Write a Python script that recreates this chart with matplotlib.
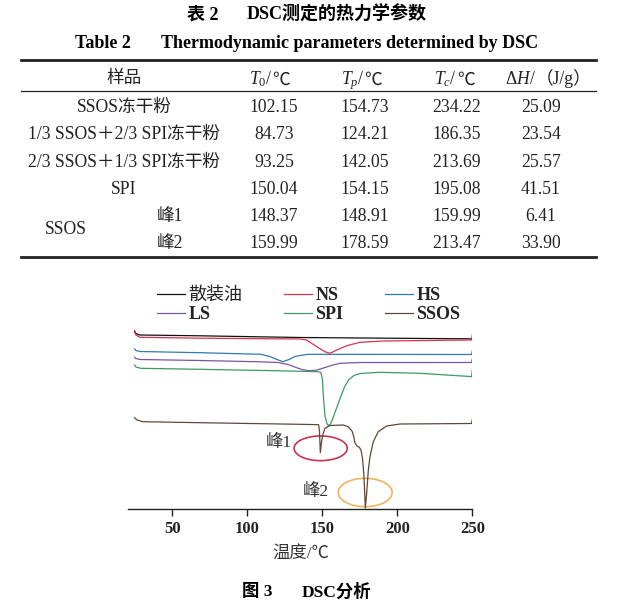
import matplotlib
matplotlib.use('Agg')
import matplotlib.pyplot as plt
from matplotlib.patches import Ellipse

plt.rcParams['font.family'] = ['Liberation Serif', 'Noto Sans CJK SC']
plt.rcParams['mathtext.fontset'] = 'custom'
plt.rcParams['mathtext.rm'] = 'Liberation Serif'
plt.rcParams['mathtext.it'] = 'Liberation Serif:italic'
plt.rcParams['mathtext.bf'] = 'Liberation Serif:bold'

# ---- Table 2 data ----
row_labels = ['SSOS冻干粉', '1/3 SSOS＋2/3 SPI冻干粉', '2/3 SSOS＋1/3 SPI冻干粉', 'SPI', '峰1', '峰2']
t_onset = [102.15, 84.73, 93.25, 150.04, 148.37, 159.99]
t_peak = [154.73, 124.21, 142.05, 154.15, 148.91, 178.59]
t_end = [234.22, 186.35, 213.69, 195.08, 159.99, 213.47]
delta_h = [25.09, 23.54, 25.57, 41.51, 6.41, 33.90]

# ---- DSC curves: temperature (C) and heat flow (a.u.) ----
oil_t = [24.9, 25.8, 28.3, 68.5, 135.1, 201.8, 248.5, 250.0]
oil_h = [17.80, 17.55, 17.40, 17.32, 17.15, 17.07, 17.02, 17.02]

ns_t = [24.9, 25.8, 28.5, 68.5, 135.1, 139.6, 146.3, 151.8, 155.1, 159.6, 166.3, 175.1, 190.5, 248.5, 249.5, 250.0]
ns_h = [17.70, 17.40, 17.17, 17.08, 17.00, 16.90, 16.23, 15.73, 15.57, 15.90, 16.33, 16.67, 16.80, 16.90, 16.90, 17.40]

hs_t = [24.9, 25.8, 28.5, 68.5, 109.1, 115.1, 119.8, 123.8, 127.8, 131.8, 135.1, 140.5, 248.5, 249.5, 250.0]
hs_h = [16.00, 15.85, 15.75, 15.63, 15.47, 15.25, 14.95, 14.73, 14.95, 15.25, 15.35, 15.47, 15.45, 15.45, 15.80]

ls_t = [24.9, 25.8, 28.5, 68.5, 108.5, 120.5, 127.1, 132.5, 137.1, 141.8, 146.5, 151.8, 157.1, 161.8, 175.1, 248.5, 249.5, 250.0]
ls_h = [15.17, 15.05, 14.95, 14.85, 14.72, 14.65, 14.45, 14.15, 13.92, 13.82, 13.90, 14.15, 14.40, 14.57, 14.65, 14.65, 14.65, 15.00]

spi_t = [24.9, 25.8, 29.1, 68.5, 121.8, 147.1, 149.1, 150.1, 150.8, 151.8, 153.1, 154.1, 155.5, 157.1, 159.8,
         162.5, 165.1, 167.8, 171.1, 175.1, 188.5, 215.1, 248.5, 249.5, 250.0]
spi_h = [14.40, 14.20, 14.07, 13.97, 13.82, 13.73, 13.65, 12.90, 11.10, 9.30, 8.55, 8.33, 8.50, 9.10, 10.20,
         11.30, 12.30, 12.95, 13.35, 13.55, 13.67, 13.57, 13.25, 13.22, 13.90]

ssos_t = [24.9, 26.5, 30.5, 68.5, 135.1, 147.5, 148.1, 148.7, 149.5, 150.3, 151.8, 155.1, 163.8, 167.1, 169.8,
          171.1, 171.8, 173.1, 174.7, 175.8, 176.8, 177.8, 178.7, 179.6, 180.7, 181.8, 184.0, 187.3, 192.9,
          201.8, 248.5, 249.5, 250.0]
ssos_h = [9.13, 8.90, 8.73, 8.63, 8.47, 8.43, 7.90, 5.63, 6.70, 7.40, 8.07, 8.35, 8.40, 8.25, 7.80,
          7.20, 6.60, 6.30, 6.17, 5.90, 5.10, 3.23, 0.10, 1.60, 3.90, 5.23, 6.73, 7.73, 8.30,
          8.50, 8.55, 8.55, 8.95]

curve_labels = ['散装油', 'NS', 'HS', 'LS', 'SPI', 'SSOS']
curve_t = [oil_t, ns_t, hs_t, ls_t, spi_t, ssos_t]
curve_h = [oil_h, ns_h, hs_h, ls_h, spi_h, ssos_h]
colors = ['#111111', '#d8344a', '#3478b4', '#7a55a3', '#3d9a62', '#5e4838']

xticks = [50, 100, 150, 200, 250]

fig = plt.figure(figsize=(6.29, 6.05), dpi=100)

# full-figure layer in pixel units for the table and captions
ax0 = fig.add_axes([0, 0, 1, 1])
ax0.set_xlim(0, 629)
ax0.set_ylim(605, 0)
ax0.axis('off')

ax0.text(186.7, 15, '表 2', fontsize=13, fontweight='bold', ha='left', va='center')
ax0.text(246.8, 15, 'DSC测定的热力学参数', fontsize=13, fontweight='bold', ha='left', va='center')
ax0.text(74.6, 43.3, 'Table 2', fontsize=13, fontweight='bold', ha='left', va='center')
ax0.text(161, 43.3, 'Thermodynamic parameters determined by DSC', fontsize=13, fontweight='bold',
         ha='left', va='center')

ax0.plot([20.7, 596], [60, 60], color='#222222', lw=2.0)
ax0.plot([20.7, 596], [90.7, 90.7], color='#222222', lw=0.9)
ax0.plot([20.7, 596], [256.7, 256.7], color='#222222', lw=2.0)

fs = 12.7
ax0.text(124, 78.5, '样品', fontsize=fs, ha='center', va='center', color='#222222')
head_y = 84.5
heads = [(272.4, r'$T_{\mathit{0}}$/', '℃'), (364.5, r'$T_{p}$/', '℃'),
         (457, r'$T_{c}$/', '℃'), (536, r'$\Delta H$/', '（J/g）')]
for x, left, right in heads:
    ax0.text(x, head_y, left, fontsize=fs, ha='right', va='baseline', color='#222222')
    ax0.text(x, head_y, right, fontsize=fs, ha='left', va='baseline', color='#222222')

row_y = [107.5, 134.8, 162.5, 189.8, 216.5, 243.8]
for i, lab in enumerate(row_labels):
    lx = 124 if i < 4 else 170
    ax0.text(lx, row_y[i], lab, fontsize=fs, ha='center', va='center', color='#222222')
    for x, vals in zip([274, 365, 457, 541], [t_onset, t_peak, t_end, delta_h]):
        ax0.text(x, row_y[i], '{:.2f}'.format(vals[i]), fontsize=fs, ha='center', va='center', color='#222222')
ax0.text(66, 229.8, 'SSOS', fontsize=fs, ha='center', va='center', color='#222222')

ax0.text(241.7, 591.7, '图 3', fontsize=12.5, fontweight='bold', ha='left', va='center')
ax0.text(301.7, 591.7, 'DSC分析', fontsize=12.5, fontweight='bold', ha='left', va='center')

# ---- DSC chart ----
ax = fig.add_axes([128.3 / 629, 96 / 605, 344 / 629, 184 / 605])
ax.patch.set_alpha(0)
for t, h, c, lab in zip(curve_t, curve_h, colors, curve_labels):
    ax.plot(t, h, color=c, lw=0.9, label=lab)

ax.add_patch(Ellipse((t_peak[4], 6.07), 35.5, 2.47, fill=False, ec='#c8344f', lw=1.2))
ax.add_patch(Ellipse((t_peak[5], 1.65), 36, 2.84, fill=False, ec='#f0b35e', lw=1.2))
ax.text(129.7, 6.6, '峰1', fontsize=12.5, ha='right', va='center', color='#333333')
ax.text(154.7, 1.73, '峰2', fontsize=12.5, ha='right', va='center', color='#333333')

ax.set_xlim(20.7, 250)
ax.set_ylim(0, 18.4)
for s in ['left', 'right', 'top']:
    ax.spines[s].set_visible(False)
ax.spines['bottom'].set_linewidth(1.0)
ax.spines['bottom'].set_color('#222222')
ax.set_yticks([])
ax.set_xticks(xticks)
ax.set_xticklabels([str(v) for v in xticks], fontweight='bold', fontsize=12)
ax.tick_params(axis='x', direction='out', length=4.8, width=1.0, pad=3.5, colors='#222222')
ax.set_xlabel('温度/℃', fontsize=12.5, color='#333333', labelpad=7.5)

handles, labels = ax.get_legend_handles_labels()
order = [0, 3, 1, 4, 2, 5]
leg = ax.legend([handles[i] for i in order], [labels[i] for i in order], ncol=3,
                loc='upper left', bbox_to_anchor=(156.7 / 629, (605 - 287) / 605),
                bbox_transform=fig.transFigure, frameon=False, fontsize=13,
                handlelength=1.55, handletextpad=0.2, labelspacing=0.12,
                columnspacing=2.3, borderpad=0, borderaxespad=0)
for txt in leg.get_texts():
    if txt.get_text() != '散装油':
        txt.set_fontweight('bold')
    txt.set_color('#222222')

fig.savefig('out.png', dpi=100)
